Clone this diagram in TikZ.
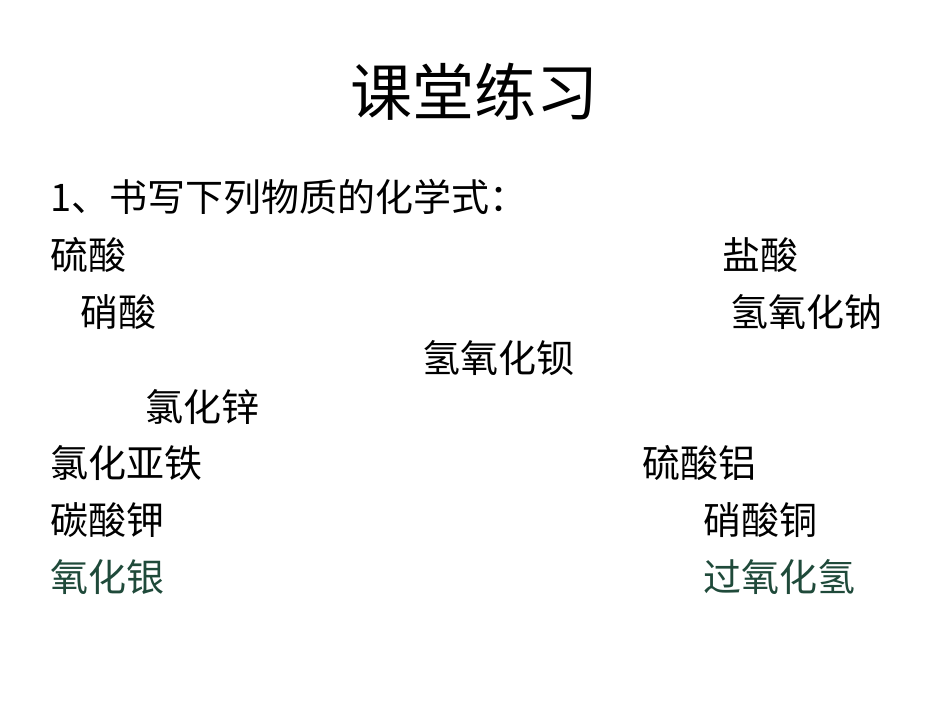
\documentclass[tikz,border=0pt]{standalone}
\usepackage{fontspec}
\newfontfamily\cjk{Noto Sans CJK SC}
\definecolor{tealdk}{HTML}{1F4A3A}
\begin{document}
\begin{tikzpicture}[x=1pt,y=-1pt,
  t/.style={anchor=west,inner sep=0pt,font=\cjk\fontsize{38}{40}\selectfont}]
\useasboundingbox[fill=white] (0,0) rectangle (950,713);
\node[inner sep=0pt,font=\cjk\fontsize{62}{66}\selectfont] (title) at (474,92) {课堂练习};
\node[t] (q) at (50,197) {1、书写下列物质的化学式：};
\node[t] (a1) at (50,255) {硫酸};
\node[t] (a2) at (722,255) {盐酸};
\node[t] (b1) at (80,312) {硝酸};
\node[t] (b2) at (730,312) {氢氧化钠};
\node[t] (c1) at (422,358) {氢氧化钡};
\node[t] (d1) at (145,407) {氯化锌};
\node[t] (e1) at (50,463) {氯化亚铁};
\node[t] (e2) at (642,463) {硫酸铝};
\node[t] (f1) at (50,520) {碳酸钾};
\node[t] (f2) at (703,520) {硝酸铜};
\node[t,text=tealdk] (g1) at (50,577) {氧化银};
\node[t,text=tealdk] (g2) at (703,577) {过氧化氢};
\end{tikzpicture}
\end{document}
